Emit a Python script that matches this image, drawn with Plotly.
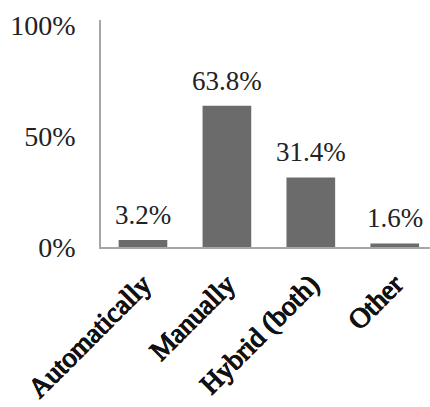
import plotly.graph_objects as go

categories = ["Automatically", "Manually", "Hybrid (both)", "Other"]
values = [3.2, 63.8, 31.4, 1.6]
labels = ["3.2%", "63.8%", "31.4%", "1.6%"]
y_ticks = [0, 50, 100]
y_tick_text = ["0%", "50%", "100%"]

SERIF = "Liberation Serif"
FAKE_BOLD = "0.7px 0 0 #111, -0.7px 0 0 #111, 0 0.5px 0 #111, 0 -0.5px 0 #111"

fig = go.Figure()
fig.add_trace(go.Bar(
    x=categories, y=values, width=0.58,
    marker=dict(color="#6b6b6b", line=dict(width=0)),
    hoverinfo="skip",
))
for c, v, t in zip(categories, values, labels):
    fig.add_annotation(x=c, y=v, text=t, showarrow=False, yanchor="bottom",
                       yshift=8, font=dict(family=SERIF, size=27, color="#222"))

fig.update_layout(
    width=430, height=407,
    margin=dict(l=101, r=0, t=20, b=160),
    paper_bgcolor="white", plot_bgcolor="white",
    showlegend=False,
    xaxis=dict(
        range=[-0.5, 3.42], showline=True, linecolor="#a6a6a6", linewidth=1.5,
        showgrid=False, ticks="", tickangle=-45,
        tickfont=dict(family=SERIF, size=28, color="#111", shadow=FAKE_BOLD),
        ticklabelstandoff=8,
    ),
    yaxis=dict(
        range=[0, 102.5], tickvals=y_ticks, ticktext=y_tick_text,
        showline=True, linecolor="#a6a6a6", linewidth=1.5,
        showgrid=False, zeroline=False, ticks="",
        tickfont=dict(family=SERIF, size=28, color="#222"),
        ticklabelstandoff=18,
    ),
)
fig.write_html("out.html")
